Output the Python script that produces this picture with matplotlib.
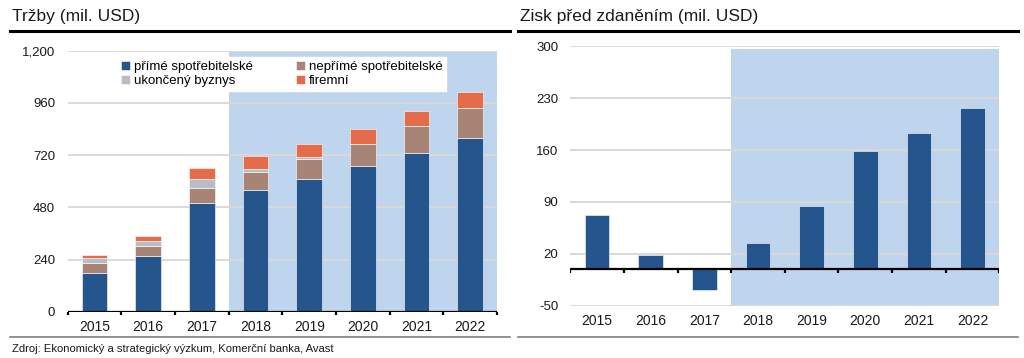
#!/usr/bin/env python3

import matplotlib
matplotlib.use('Agg')
import matplotlib.pyplot as plt
import numpy as np

plt.rcParams['font.family'] = ['Liberation Sans', 'DejaVu Sans']

#-----------
# DATA
#-----------
years = ['2015', '2016', '2017', '2018', '2019', '2020', '2021', '2022']

# trzby (mil. USD), stacked
prime = [180, 258, 498, 559, 612, 668, 730, 798]
neprime = [44, 46, 73, 83, 92, 102, 123, 138]
ukonceny = [21, 22, 41, 13, 8, 0, 0, 0]
firemni = [14, 20, 50, 63, 61, 69, 68, 73]

# zisk pred zdanenim (mil. USD)
zisk = [73, 19, -29, 35, 85, 159, 183, 217]

rev_ticks = [0, 240, 480, 720, 960, 1200]
zisk_ticks = [-50, 20, 90, 160, 230, 300]

#-----------
# STYLE
#-----------
C_BLUE = '#24558c'
C_BROWN = '#a88476'
C_GRAY = '#b9bcc6'
C_ORANGE = '#e46c4a'
C_SHADE = '#bfd5ee'
C_GRID = '#d9d9d9'
C_TEXT = '#1a1a1a'

fig = plt.figure(figsize=(10.24, 3.58), dpi=100)

x = np.arange(len(years))
bounds = np.arange(-0.5, len(years))


def _style_axis(ax, ticks, fmt, pad):
  ax.set_xlim(-0.5, len(years) - 0.5)
  ax.set_yticks(ticks)
  ax.set_yticklabels([fmt(t) for t in ticks], fontsize=9.5, color=C_TEXT)
  ax.tick_params(axis='y', length=0, pad=pad)
  ax.grid(axis='y', color=C_GRID, linewidth=1.4, zorder=1)
  ax.set_axisbelow(False)
  for s in ax.spines.values():
    s.set_visible(False)
  ax.set_xticks(x)
  ax.set_xticklabels(years, fontsize=10, color=C_TEXT)
  ax.tick_params(axis='x', length=0, pad=6)


#-----------
# LEFT: Trzby
#-----------
ax1 = fig.add_axes([0.0661, 0.1293, 0.4193, 0.7291])
ax1.set_ylim(0, 1200)
ax1.axvspan(2.5, 7.5, color=C_SHADE, zorder=0, lw=0)
_style_axis(ax1, rev_ticks, lambda t: f'{t:,}', 9)

w = 0.48
b = np.zeros(len(years))
for vals, col, lab in [(prime, C_BLUE, 'přímé spotřebitelské'),
                       (neprime, C_BROWN, 'nepřímé spotřebitelské'),
                       (ukonceny, C_GRAY, 'ukončený byznys'),
                       (firemni, C_ORANGE, 'firemní')]:
  ax1.bar(x, vals, w, bottom=b, color=col, label=lab, zorder=3,
          edgecolor='white', linewidth=0.4)
  b = b + np.array(vals)

ax1.axhline(0, color='black', lw=1.6, zorder=4)
ax1.vlines(bounds, -17, 0, color='black', lw=1.6, zorder=4, clip_on=False)

# legend order: row1 prime / neprime, row2 ukonceny / firemni
h, l = ax1.get_legend_handles_labels()
order = [0, 2, 1, 3]
leg = ax1.legend([h[i] for i in order], [l[i] for i in order], ncol=2,
                 loc='upper left', bbox_to_anchor=(0.1, 1.002),
                 frameon=True, fancybox=False, framealpha=1, edgecolor='white',
                 fontsize=9.5, handlelength=0.7, handleheight=0.7,
                 handletextpad=0.3, columnspacing=3.2, labelspacing=0.15,
                 borderpad=0.3)
leg.set_zorder(5)

#-----------
# RIGHT: Zisk
#-----------
ax2 = fig.add_axes([0.5569, 0.1461, 0.4190, 0.7246])
ax2.set_ylim(-50, 300)
shade_top = 297
ax2.fill_between([2.5, 7.5], -50, shade_top, color=C_SHADE, zorder=0, lw=0)
_style_axis(ax2, zisk_ticks, lambda t: f'{t}', 8.5)

ax2.bar(x, zisk, 0.46, color=C_BLUE, zorder=3, edgecolor='white', linewidth=0.4)
ax2.axhline(0, color='black', lw=1.6, zorder=4)
ax2.vlines(bounds, -5.5, 0, color='black', lw=1.6, zorder=4)

#-----------
# TITLES / FRAME
#-----------
fig.text(12 / 1024, 1 - 16 / 358, 'Tržby (mil. USD)', fontsize=12.5,
         color=C_TEXT, va='center', ha='left')
fig.text(520 / 1024, 1 - 16 / 358, 'Zisk před zdaněním (mil. USD)',
         fontsize=12.5, color=C_TEXT, va='center', ha='left')

for x0, x1 in [(10, 510), (518, 1018)]:
  fig.add_artist(plt.Line2D([x0 / 1024, x1 / 1024], [1 - 31 / 358] * 2,
                            color='black', lw=2.2))
  fig.add_artist(plt.Line2D([x0 / 1024, x1 / 1024], [1 - 337 / 358] * 2,
                            color='#808080', lw=1.2))

fig.text(12 / 1024, 1 - 349 / 358,
         'Zdroj: Ekonomický a strategický výzkum, Komerční banka, Avast',
         fontsize=8.1, color=C_TEXT, va='center', ha='left')

fig.savefig('out.png', dpi=100)
